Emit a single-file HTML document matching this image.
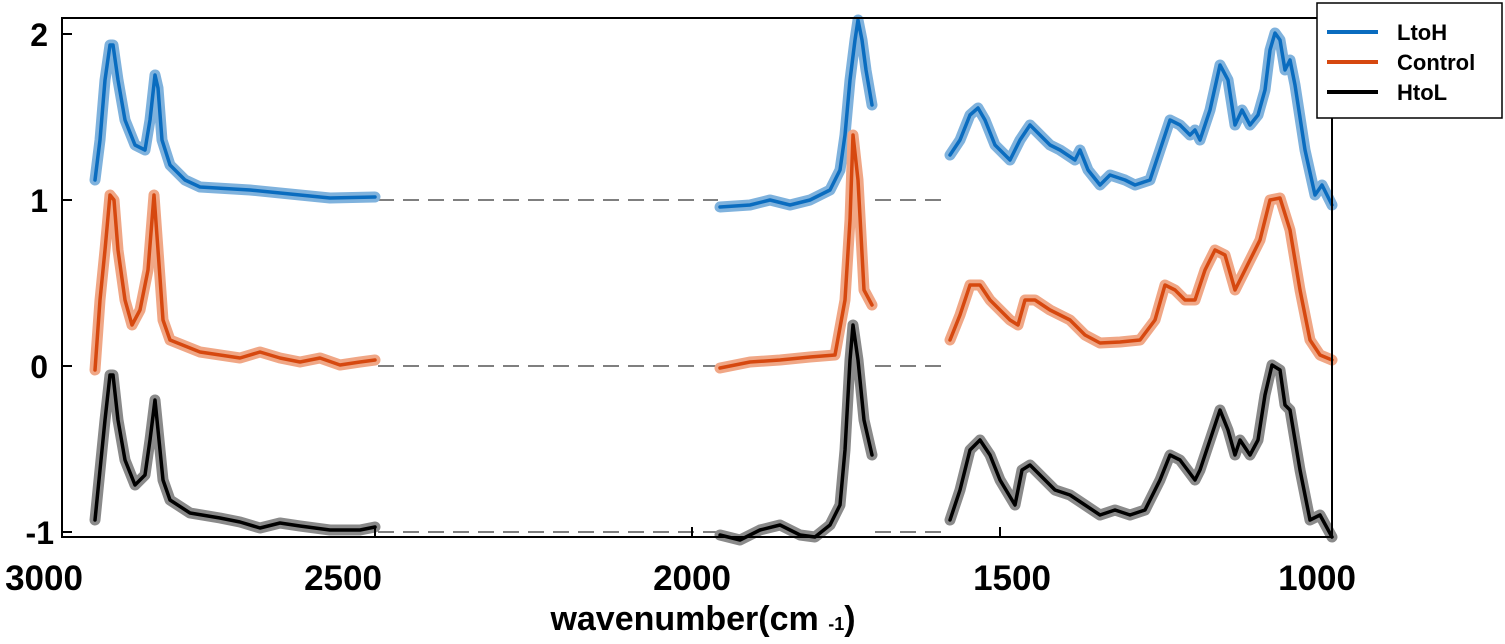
<!DOCTYPE html>
<html><head><meta charset="utf-8"><style>
html,body{margin:0;padding:0;background:#fff;}
svg{display:block;font-family:"Liberation Sans",Arial,sans-serif;}
</style></head><body>
<svg width="1505" height="644" viewBox="0 0 1505 644" xmlns="http://www.w3.org/2000/svg">
<rect width="1505" height="644" fill="#fff"/>
<g stroke="#555" stroke-width="1.5" stroke-dasharray="16,9" fill="none">
<line x1="378" y1="200" x2="718" y2="200"/><line x1="875" y1="200" x2="948" y2="200"/>
<line x1="378" y1="366" x2="718" y2="366"/><line x1="875" y1="366" x2="948" y2="366"/>
<line x1="378" y1="532" x2="718" y2="532"/><line x1="875" y1="532" x2="948" y2="532"/>
</g>
<defs>
<g id="b1"><polyline points="95,180 100,140 105,80 110,45 113,45 118,80 125,120 135,145 145,150 150,120 155,75 158,88 162,140 170,165 185,180 200,187 250,190 300,195 330,198 375,197"/>
<polyline points="720,207 750,205 770,200 790,205 810,200 830,190 840,170 845,135 850,80 855,40 858,20 862,40 866,70 872,105"/>
<polyline points="950,155 960,140 970,115 978,108 985,120 995,145 1010,160 1020,140 1030,125 1040,135 1050,145 1060,150 1075,160 1080,150 1088,170 1100,185 1110,175 1125,180 1135,185 1150,180 1160,150 1170,120 1180,125 1190,135 1195,130 1200,140 1210,110 1220,65 1228,80 1235,125 1242,110 1250,125 1258,115 1265,90 1270,50 1275,33 1280,40 1285,70 1290,60 1295,85 1305,150 1315,195 1322,185 1332,205"/></g>
<g id="o1"><polyline points="95,370 100,300 105,250 110,195 114,200 118,250 125,300 132,325 140,310 148,270 154,195 158,250 163,320 170,340 200,352 220,355 240,358 260,352 280,358 300,362 320,358 340,365 360,362 375,360"/>
<polyline points="720,368 750,362 780,360 810,357 835,355 845,300 850,220 853,135 858,180 864,290 872,305"/>
<polyline points="950,340 960,315 970,285 980,285 990,300 1010,320 1018,325 1025,300 1035,300 1050,310 1070,320 1085,335 1100,343 1120,342 1140,340 1155,320 1165,285 1175,290 1185,300 1195,300 1205,270 1215,250 1225,255 1235,290 1245,270 1260,240 1270,200 1280,198 1290,230 1300,290 1310,340 1320,355 1332,360"/></g>
<g id="k1"><polyline points="95,520 100,470 105,420 110,375 113,375 118,420 125,460 135,485 145,475 150,440 155,400 158,430 163,480 170,500 190,513 220,518 240,522 260,528 280,523 300,526 330,530 360,530 375,527"/>
<polyline points="720,535 740,540 760,530 780,525 800,535 815,537 830,525 840,505 845,450 850,360 853,325 858,360 864,420 872,455"/>
<polyline points="950,520 960,490 970,450 980,440 990,455 1000,480 1015,505 1022,470 1030,465 1040,475 1055,490 1070,495 1085,505 1100,515 1115,510 1130,515 1145,510 1160,480 1170,455 1180,460 1195,480 1200,470 1210,440 1220,410 1228,430 1235,455 1240,440 1250,455 1258,440 1265,395 1272,365 1280,370 1285,405 1290,410 1300,470 1310,520 1320,515 1332,537"/></g>
</defs>
<g fill="none" stroke-linejoin="round" stroke-linecap="round">
<use href="#b1" stroke="#7fb2dd" stroke-width="11"/>
<use href="#b1" stroke="#0a6cbf" stroke-width="3.5"/>
<use href="#o1" stroke="#f0a786" stroke-width="11"/>
<use href="#o1" stroke="#d6480f" stroke-width="3.5"/>
<use href="#k1" stroke="#8a8a8a" stroke-width="11"/>
<use href="#k1" stroke="#000" stroke-width="3.5"/>
</g>
<rect x="62" y="18" width="1270" height="519" fill="none" stroke="#000" stroke-width="2"/>
<g stroke="#000" stroke-width="2">
<line x1="62" y1="34" x2="72" y2="34"/><line x1="62" y1="200" x2="72" y2="200"/>
<line x1="62" y1="366" x2="72" y2="366"/><line x1="62" y1="532" x2="72" y2="532"/>
<line x1="375" y1="537" x2="375" y2="527"/><line x1="692" y1="537" x2="692" y2="527"/><line x1="1000" y1="537" x2="1000" y2="527"/>
</g>
<g font-size="32" font-weight="bold" fill="#000" text-anchor="end">
<text x="48" y="46">2</text><text x="48" y="212">1</text><text x="48" y="378">0</text><text x="54" y="544">-1</text>
</g>
<g font-size="35" font-weight="bold" fill="#000" text-anchor="middle">
<text x="44" y="590">3000</text><text x="343" y="590">2500</text><text x="692" y="590">2000</text><text x="1012" y="590">1500</text><text x="1317" y="590">1000</text>
</g>
<text x="703" y="630" font-size="34" font-weight="bold" text-anchor="middle">wavenumber(cm <tspan font-size="18">-1</tspan>)</text>
<rect x="1317" y="3" width="185" height="115" fill="#fff" stroke="#000" stroke-width="1.5"/>
<g stroke-width="4"><line x1="1327" y1="32" x2="1378" y2="32" stroke="#0a6cbf"/><line x1="1327" y1="62" x2="1378" y2="62" stroke="#d6480f"/><line x1="1327" y1="92" x2="1378" y2="92" stroke="#000"/></g>
<g font-size="22" font-weight="bold" fill="#000"><text x="1397" y="40">LtoH</text><text x="1397" y="70">Control</text><text x="1397" y="100">HtoL</text></g>
</svg>
</body></html>
